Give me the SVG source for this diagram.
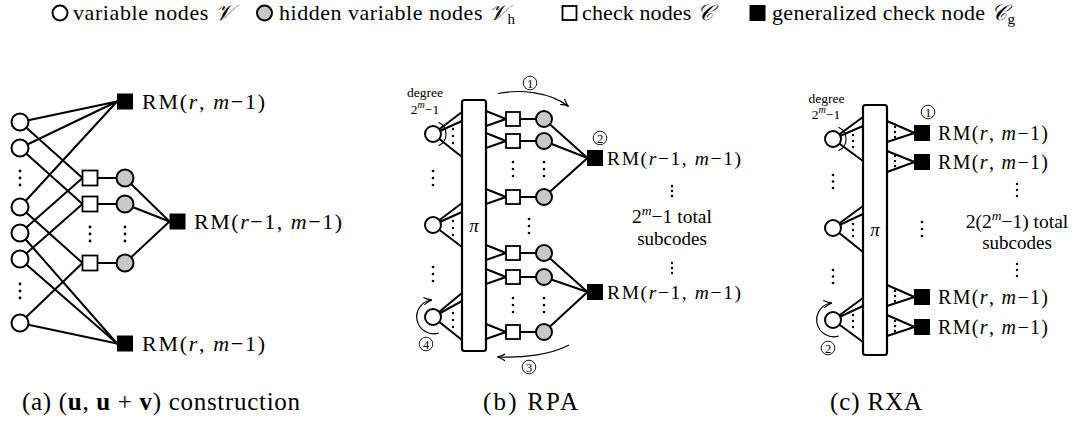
<svg xmlns="http://www.w3.org/2000/svg" width="1086" height="434" viewBox="0 0 1086 434">
<style>
.ln{stroke:#000;stroke-width:2;fill:none;stroke-linecap:round}
.thin{stroke:#000;stroke-width:1.1;fill:none}
.vn{fill:#fff;stroke:#000;stroke-width:2}
.hn{fill:#c8c8c8;stroke:#000;stroke-width:2}
.cn{fill:#fff;stroke:#000;stroke-width:1.8}
.gn{fill:#000;stroke:#000;stroke-width:1}
.pi{fill:#fff;stroke:#000;stroke-width:2.2}
.dt{fill:#000}
.t{font-family:"Liberation Serif","DejaVu Serif",serif;fill:#000}
.it{font-style:italic}
.cal{font-family:"DejaVu Sans","Noto Sans",serif;font-style:italic}
.cd{fill:none;stroke:#000;stroke-width:0.9}
.arr{stroke:#000;stroke-width:1.2;fill:none;marker-end:url(#ah)}
</style>
<defs>
<marker id="ah" viewBox="0 0 10 10" refX="8" refY="5" markerWidth="9" markerHeight="9" markerUnits="userSpaceOnUse" orient="auto">
<path d="M0,1 Q4,4 9,5 Q4,6 0,9" fill="none" stroke="#000" stroke-width="1.3"/>
</marker>
</defs>
<rect width="1086" height="434" fill="#fff"/>

<!-- Legend -->
<g id="legend">
<circle class="vn" cx="60" cy="13" r="7.5"/>
<text class="t" x="73" y="20" font-size="22" textLength="160" lengthAdjust="spacing">variable nodes <tspan class="cal">𝒱</tspan></text>
<circle class="hn" cx="264.5" cy="13" r="7.5"/>
<text class="t" x="279" y="20" font-size="22" textLength="236" lengthAdjust="spacing">hidden variable nodes <tspan class="cal">𝒱</tspan><tspan font-size="15" dy="4">h</tspan></text>
<rect class="cn" x="562.5" y="6" width="14" height="14"/>
<text class="t" x="582" y="20" font-size="22" textLength="131" lengthAdjust="spacing">check nodes <tspan class="cal">𝒞</tspan></text>
<rect class="gn" x="750" y="5.5" width="15" height="15"/>
<text class="t" x="772" y="20" font-size="22" textLength="243" lengthAdjust="spacing">generalized check node <tspan class="cal">𝒞</tspan><tspan font-size="15" dy="4">g</tspan></text>
</g>

<!-- Panel (a) -->
<g id="a-connectors">
<line class="ln" x1="20" y1="122" x2="117" y2="101.5"/>
<line class="ln" x1="20" y1="148" x2="117" y2="101.5"/>
<line class="ln" x1="20" y1="207" x2="117" y2="101.5"/>
<line class="ln" x1="20" y1="122" x2="82.5" y2="178"/>
<line class="ln" x1="20" y1="148" x2="82.5" y2="204"/>
<line class="ln" x1="20" y1="207" x2="82.5" y2="263"/>
<line class="ln" x1="20" y1="233" x2="82.5" y2="178"/>
<line class="ln" x1="20" y1="259" x2="82.5" y2="204"/>
<line class="ln" x1="20" y1="323" x2="82.5" y2="263"/>
<line class="ln" x1="20" y1="233" x2="117" y2="343.5"/>
<line class="ln" x1="20" y1="259" x2="117" y2="343.5"/>
<line class="ln" x1="20" y1="323" x2="117" y2="343.5"/>
<line class="ln" x1="97" y1="178" x2="117" y2="178"/>
<line class="ln" x1="97" y1="204" x2="117" y2="204"/>
<line class="ln" x1="97" y1="263" x2="117" y2="263"/>
<line class="ln" x1="125" y1="178" x2="169.5" y2="221.5"/>
<line class="ln" x1="125" y1="204" x2="169.5" y2="221.5"/>
<line class="ln" x1="125" y1="263" x2="169.5" y2="221.5"/>
</g>
<g id="a-v1"><circle class="vn" cx="20" cy="122" r="8.5"/></g>
<g id="a-v2"><circle class="vn" cx="20" cy="148" r="8.5"/></g>
<g id="a-v3"><circle class="vn" cx="20" cy="207" r="8.5"/></g>
<g id="a-v4"><circle class="vn" cx="20" cy="233" r="8.5"/></g>
<g id="a-v5"><circle class="vn" cx="20" cy="259" r="8.5"/></g>
<g id="a-v6"><circle class="vn" cx="20" cy="323" r="8.5"/></g>
<g id="a-c1"><rect class="cn" x="82.5" y="170.5" width="15" height="15"/></g>
<g id="a-c2"><rect class="cn" x="82.5" y="196.5" width="15" height="15"/></g>
<g id="a-c3"><rect class="cn" x="82.5" y="255.5" width="15" height="15"/></g>
<g id="a-h1"><circle class="hn" cx="125" cy="178" r="8.5"/></g>
<g id="a-h2"><circle class="hn" cx="125" cy="204" r="8.5"/></g>
<g id="a-h3"><circle class="hn" cx="125" cy="263" r="8.5"/></g>
<g id="a-g-top"><rect class="gn" x="117.5" y="94" width="15" height="15"/>
<text class="t" x="142" y="108.5" font-size="22" textLength="123" lengthAdjust="spacing">RM(<tspan class="it">r</tspan>, <tspan class="it">m</tspan>−1)</text></g>
<g id="a-g-mid"><rect class="gn" x="170" y="214" width="15" height="15"/>
<text class="t" x="194" y="228.5" font-size="22" textLength="148" lengthAdjust="spacing">RM(<tspan class="it">r</tspan>−1, <tspan class="it">m</tspan>−1)</text></g>
<g id="a-g-bot"><rect class="gn" x="117.5" y="336" width="15" height="15"/>
<text class="t" x="142" y="350.5" font-size="22" textLength="123" lengthAdjust="spacing">RM(<tspan class="it">r</tspan>, <tspan class="it">m</tspan>−1)</text></g>
<g id="a-dots">
<circle class="dt" cx="20" cy="171" r="1.4"/><circle class="dt" cx="20" cy="178" r="1.4"/><circle class="dt" cx="20" cy="185" r="1.4"/>
<circle class="dt" cx="20" cy="284" r="1.4"/><circle class="dt" cx="20" cy="291" r="1.4"/><circle class="dt" cx="20" cy="298" r="1.4"/>
<circle class="dt" cx="90" cy="227" r="1.4"/><circle class="dt" cx="90" cy="234" r="1.4"/><circle class="dt" cx="90" cy="241" r="1.4"/>
<circle class="dt" cx="125" cy="227" r="1.4"/><circle class="dt" cx="125" cy="234" r="1.4"/><circle class="dt" cx="125" cy="241" r="1.4"/>
</g>
<text class="t" x="22" y="410" font-size="25" textLength="278" lengthAdjust="spacing">(a) (<tspan font-weight="bold">u</tspan>, <tspan font-weight="bold">u</tspan> + <tspan font-weight="bold">v</tspan>) construction</text>

<!-- Panel (b) -->
<g id="b-connectors">
<line class="ln" x1="433" y1="134" x2="462" y2="112"/>
<line class="ln" x1="433" y1="134" x2="462" y2="121"/>
<line class="ln" x1="433" y1="134" x2="462" y2="157"/>
<line class="ln" x1="433" y1="225" x2="462" y2="203"/>
<line class="ln" x1="433" y1="225" x2="462" y2="212"/>
<line class="ln" x1="433" y1="225" x2="462" y2="247"/>
<line class="ln" x1="433" y1="317" x2="462" y2="293"/>
<line class="ln" x1="433" y1="317" x2="462" y2="301"/>
<line class="ln" x1="433" y1="317" x2="462" y2="340"/>
<line class="ln" x1="486" y1="111" x2="506" y2="119"/><line class="ln" x1="486" y1="126" x2="506" y2="119"/>
<line class="ln" x1="486" y1="133" x2="506" y2="141"/><line class="ln" x1="486" y1="148" x2="506" y2="141"/>
<line class="ln" x1="486" y1="189" x2="506" y2="197"/><line class="ln" x1="486" y1="204" x2="506" y2="197"/>
<line class="ln" x1="486" y1="245" x2="506" y2="253"/><line class="ln" x1="486" y1="260" x2="506" y2="253"/>
<line class="ln" x1="486" y1="269" x2="506" y2="277"/><line class="ln" x1="486" y1="284" x2="506" y2="277"/>
<line class="ln" x1="486" y1="324" x2="506" y2="332"/><line class="ln" x1="486" y1="339" x2="506" y2="332"/>
<line class="ln" x1="520" y1="119" x2="536" y2="119"/>
<line class="ln" x1="520" y1="141" x2="536" y2="141"/>
<line class="ln" x1="520" y1="197" x2="536" y2="197"/>
<line class="ln" x1="520" y1="253" x2="536" y2="253"/>
<line class="ln" x1="520" y1="277" x2="536" y2="277"/>
<line class="ln" x1="520" y1="332" x2="536" y2="332"/>
<line class="ln" x1="544" y1="119" x2="587.5" y2="158"/>
<line class="ln" x1="544" y1="141" x2="587.5" y2="158"/>
<line class="ln" x1="544" y1="197" x2="587.5" y2="158"/>
<line class="ln" x1="544" y1="253" x2="587.5" y2="292"/>
<line class="ln" x1="544" y1="277" x2="587.5" y2="292"/>
<line class="ln" x1="544" y1="332" x2="587.5" y2="292"/>
<path class="thin" d="M438.5,122.2 A13,13 0 0 1 438.5,145.8"/>
<path class="arr" d="M498,93.5 C520,89 550,92 568,106"/>
<path class="arr" d="M569,345 C550,355 522,358 498,357"/>
<path class="arr" d="M438.8,333 A17,17 0 1 1 431,300"/>
</g>
<g id="b-pi"><rect class="pi" x="462" y="100" width="24" height="251" rx="2.5"/>
<text class="t it" x="474" y="232" font-size="19" text-anchor="middle">π</text></g>
<g id="b-v1"><circle class="vn" cx="433" cy="134" r="8"/></g>
<g id="b-v2"><circle class="vn" cx="433" cy="225" r="8"/></g>
<g id="b-v3"><circle class="vn" cx="433" cy="317" r="8"/></g>
<g id="b-c1"><rect class="cn" x="506" y="112" width="14" height="14"/></g>
<g id="b-c2"><rect class="cn" x="506" y="134" width="14" height="14"/></g>
<g id="b-c3"><rect class="cn" x="506" y="190" width="14" height="14"/></g>
<g id="b-c4"><rect class="cn" x="506" y="246" width="14" height="14"/></g>
<g id="b-c5"><rect class="cn" x="506" y="270" width="14" height="14"/></g>
<g id="b-c6"><rect class="cn" x="506" y="325" width="14" height="14"/></g>
<g id="b-h1"><circle class="hn" cx="544" cy="119" r="8"/></g>
<g id="b-h2"><circle class="hn" cx="544" cy="141" r="8"/></g>
<g id="b-h3"><circle class="hn" cx="544" cy="197" r="8"/></g>
<g id="b-h4"><circle class="hn" cx="544" cy="253" r="8"/></g>
<g id="b-h5"><circle class="hn" cx="544" cy="277" r="8"/></g>
<g id="b-h6"><circle class="hn" cx="544" cy="332" r="8"/></g>
<g id="b-g1"><rect class="gn" x="587.5" y="150.5" width="15" height="15"/>
<text class="t" x="607" y="164.5" font-size="19.5" textLength="134" lengthAdjust="spacing">RM(<tspan class="it">r</tspan>−1, <tspan class="it">m</tspan>−1)</text></g>
<g id="b-g2"><rect class="gn" x="587.5" y="284.5" width="15" height="15"/>
<text class="t" x="607" y="298.5" font-size="19.5" textLength="134" lengthAdjust="spacing">RM(<tspan class="it">r</tspan>−1, <tspan class="it">m</tspan>−1)</text></g>
<g id="b-dots">
<circle class="dt" cx="433" cy="171" r="1.3"/><circle class="dt" cx="433" cy="178" r="1.3"/><circle class="dt" cx="433" cy="185" r="1.3"/>
<circle class="dt" cx="433" cy="267" r="1.3"/><circle class="dt" cx="433" cy="274" r="1.3"/><circle class="dt" cx="433" cy="281" r="1.3"/>
<circle class="dt" cx="453" cy="129" r="1.2"/><circle class="dt" cx="453" cy="136" r="1.2"/><circle class="dt" cx="453" cy="143" r="1.2"/>
<circle class="dt" cx="453" cy="221" r="1.2"/><circle class="dt" cx="453" cy="228" r="1.2"/><circle class="dt" cx="453" cy="235" r="1.2"/>
<circle class="dt" cx="453" cy="313" r="1.2"/><circle class="dt" cx="453" cy="320" r="1.2"/><circle class="dt" cx="453" cy="327" r="1.2"/>
<circle class="dt" cx="513" cy="162" r="1.3"/><circle class="dt" cx="513" cy="169" r="1.3"/><circle class="dt" cx="513" cy="176" r="1.3"/>
<circle class="dt" cx="544" cy="162" r="1.3"/><circle class="dt" cx="544" cy="169" r="1.3"/><circle class="dt" cx="544" cy="176" r="1.3"/>
<circle class="dt" cx="529" cy="219" r="1.3"/><circle class="dt" cx="529" cy="226" r="1.3"/><circle class="dt" cx="529" cy="233" r="1.3"/>
<circle class="dt" cx="513" cy="298" r="1.3"/><circle class="dt" cx="513" cy="305" r="1.3"/><circle class="dt" cx="513" cy="312" r="1.3"/>
<circle class="dt" cx="544" cy="298" r="1.3"/><circle class="dt" cx="544" cy="305" r="1.3"/><circle class="dt" cx="544" cy="312" r="1.3"/>
<circle class="dt" cx="672" cy="186" r="1.2"/><circle class="dt" cx="672" cy="191" r="1.2"/><circle class="dt" cx="672" cy="196" r="1.2"/>
<circle class="dt" cx="672" cy="263" r="1.2"/><circle class="dt" cx="672" cy="268" r="1.2"/><circle class="dt" cx="672" cy="273" r="1.2"/>
</g>
<g id="b-labels">
<text class="t" x="425" y="97" font-size="13.5" text-anchor="middle">degree</text>
<text class="t" x="425" y="114" font-size="13.5" text-anchor="middle">2<tspan class="it" font-size="10" dy="-6">m</tspan><tspan dy="6">−1</tspan></text>
<g><circle class="cd" cx="530" cy="83" r="6.8"/><text class="t" x="530" y="87.5" font-size="12.5" text-anchor="middle">1</text></g>
<g><circle class="cd" cx="600" cy="138" r="6.8"/><text class="t" x="600" y="142.5" font-size="12.5" text-anchor="middle">2</text></g>
<g><circle class="cd" cx="529" cy="367" r="6.8"/><text class="t" x="529" y="371.5" font-size="12.5" text-anchor="middle">3</text></g>
<g><circle class="cd" cx="426" cy="344" r="6.8"/><text class="t" x="426" y="348.5" font-size="12.5" text-anchor="middle">4</text></g>
<text class="t" x="672" y="223" font-size="19.5" text-anchor="middle">2<tspan class="it" font-size="13.5" dy="-8">m</tspan><tspan dy="8">−1 total</tspan></text>
<text class="t" x="672" y="245" font-size="19" text-anchor="middle">subcodes</text>
</g>
<text class="t" x="483" y="410" font-size="25" textLength="95" lengthAdjust="spacing">(b) RPA</text>

<!-- Panel (c) -->
<g id="c-connectors">
<line class="ln" x1="833" y1="139" x2="863" y2="117"/>
<line class="ln" x1="833" y1="139" x2="863" y2="126"/>
<line class="ln" x1="833" y1="139" x2="863" y2="161"/>
<line class="ln" x1="833" y1="228" x2="863" y2="206"/>
<line class="ln" x1="833" y1="228" x2="863" y2="214"/>
<line class="ln" x1="833" y1="228" x2="863" y2="252"/>
<line class="ln" x1="833" y1="320" x2="863" y2="298"/>
<line class="ln" x1="833" y1="320" x2="863" y2="306"/>
<line class="ln" x1="833" y1="320" x2="863" y2="342"/>
<line class="ln" x1="887" y1="121" x2="914.5" y2="133"/><line class="ln" x1="887" y1="142" x2="914.5" y2="133"/>
<line class="ln" x1="887" y1="151" x2="914.5" y2="162"/><line class="ln" x1="887" y1="172" x2="914.5" y2="162"/>
<line class="ln" x1="887" y1="285" x2="914.5" y2="297"/><line class="ln" x1="887" y1="306" x2="914.5" y2="297"/>
<line class="ln" x1="887" y1="315" x2="914.5" y2="327"/><line class="ln" x1="887" y1="336" x2="914.5" y2="327"/>
<path class="thin" d="M838.5,127.2 A13,13 0 0 1 838.5,150.8"/>
<path class="arr" d="M838.8,336 A17,17 0 1 1 831,303"/>
</g>
<g id="c-pi"><rect class="pi" x="863" y="105" width="24" height="250" rx="2.5"/>
<text class="t it" x="875" y="236" font-size="19" text-anchor="middle">π</text></g>
<g id="c-v1"><circle class="vn" cx="833" cy="139" r="8"/></g>
<g id="c-v2"><circle class="vn" cx="833" cy="228" r="8"/></g>
<g id="c-v3"><circle class="vn" cx="833" cy="320" r="8"/></g>
<g id="c-g1"><rect class="gn" x="914.5" y="125.5" width="15" height="15"/>
<text class="t" x="938" y="140" font-size="20" textLength="110" lengthAdjust="spacing">RM(<tspan class="it">r</tspan>, <tspan class="it">m</tspan>−1)</text></g>
<g id="c-g2"><rect class="gn" x="914.5" y="154.5" width="15" height="15"/>
<text class="t" x="938" y="169" font-size="20" textLength="110" lengthAdjust="spacing">RM(<tspan class="it">r</tspan>, <tspan class="it">m</tspan>−1)</text></g>
<g id="c-g3"><rect class="gn" x="914.5" y="289.5" width="15" height="15"/>
<text class="t" x="938" y="304" font-size="20" textLength="110" lengthAdjust="spacing">RM(<tspan class="it">r</tspan>, <tspan class="it">m</tspan>−1)</text></g>
<g id="c-g4"><rect class="gn" x="914.5" y="319.5" width="15" height="15"/>
<text class="t" x="938" y="334" font-size="20" textLength="110" lengthAdjust="spacing">RM(<tspan class="it">r</tspan>, <tspan class="it">m</tspan>−1)</text></g>
<g id="c-dots">
<circle class="dt" cx="833" cy="175" r="1.3"/><circle class="dt" cx="833" cy="181.5" r="1.3"/><circle class="dt" cx="833" cy="188" r="1.3"/>
<circle class="dt" cx="833" cy="270" r="1.3"/><circle class="dt" cx="833" cy="276.5" r="1.3"/><circle class="dt" cx="833" cy="283" r="1.3"/>
<circle class="dt" cx="853" cy="135" r="1.2"/><circle class="dt" cx="853" cy="141" r="1.2"/><circle class="dt" cx="853" cy="147" r="1.2"/>
<circle class="dt" cx="853" cy="224" r="1.2"/><circle class="dt" cx="853" cy="230" r="1.2"/><circle class="dt" cx="853" cy="236" r="1.2"/>
<circle class="dt" cx="853" cy="315" r="1.2"/><circle class="dt" cx="853" cy="321" r="1.2"/><circle class="dt" cx="853" cy="327" r="1.2"/>
<circle class="dt" cx="895" cy="127" r="1.2"/><circle class="dt" cx="895" cy="132" r="1.2"/><circle class="dt" cx="895" cy="137" r="1.2"/>
<circle class="dt" cx="895" cy="156" r="1.2"/><circle class="dt" cx="895" cy="161" r="1.2"/><circle class="dt" cx="895" cy="166" r="1.2"/>
<circle class="dt" cx="895" cy="291" r="1.2"/><circle class="dt" cx="895" cy="296" r="1.2"/><circle class="dt" cx="895" cy="301" r="1.2"/>
<circle class="dt" cx="895" cy="321" r="1.2"/><circle class="dt" cx="895" cy="326" r="1.2"/><circle class="dt" cx="895" cy="331" r="1.2"/>
<circle class="dt" cx="922" cy="222" r="1.3"/><circle class="dt" cx="922" cy="229" r="1.3"/><circle class="dt" cx="922" cy="236" r="1.3"/>
<circle class="dt" cx="1017" cy="184" r="1.2"/><circle class="dt" cx="1017" cy="190" r="1.2"/><circle class="dt" cx="1017" cy="196" r="1.2"/>
<circle class="dt" cx="1017" cy="264" r="1.2"/><circle class="dt" cx="1017" cy="270" r="1.2"/><circle class="dt" cx="1017" cy="276" r="1.2"/>
</g>
<g id="c-labels">
<text class="t" x="826.5" y="103" font-size="13.5" text-anchor="middle">degree</text>
<text class="t" x="826" y="119" font-size="13.5" text-anchor="middle">2<tspan class="it" font-size="10" dy="-6">m</tspan><tspan dy="6">−1</tspan></text>
<g><circle class="cd" cx="928" cy="112" r="6.8"/><text class="t" x="928" y="116.5" font-size="12.5" text-anchor="middle">1</text></g>
<g><circle class="cd" cx="828" cy="348" r="6.8"/><text class="t" x="828" y="352.5" font-size="12.5" text-anchor="middle">2</text></g>
<text class="t" x="1017" y="228" font-size="19.5" text-anchor="middle">2(2<tspan class="it" font-size="13.5" dy="-8">m</tspan><tspan dy="8">−1) total</tspan></text>
<text class="t" x="1017" y="249" font-size="19" text-anchor="middle">subcodes</text>
</g>
<text class="t" x="830" y="410" font-size="25" textLength="92" lengthAdjust="spacing">(c) RXA</text>
</svg>
